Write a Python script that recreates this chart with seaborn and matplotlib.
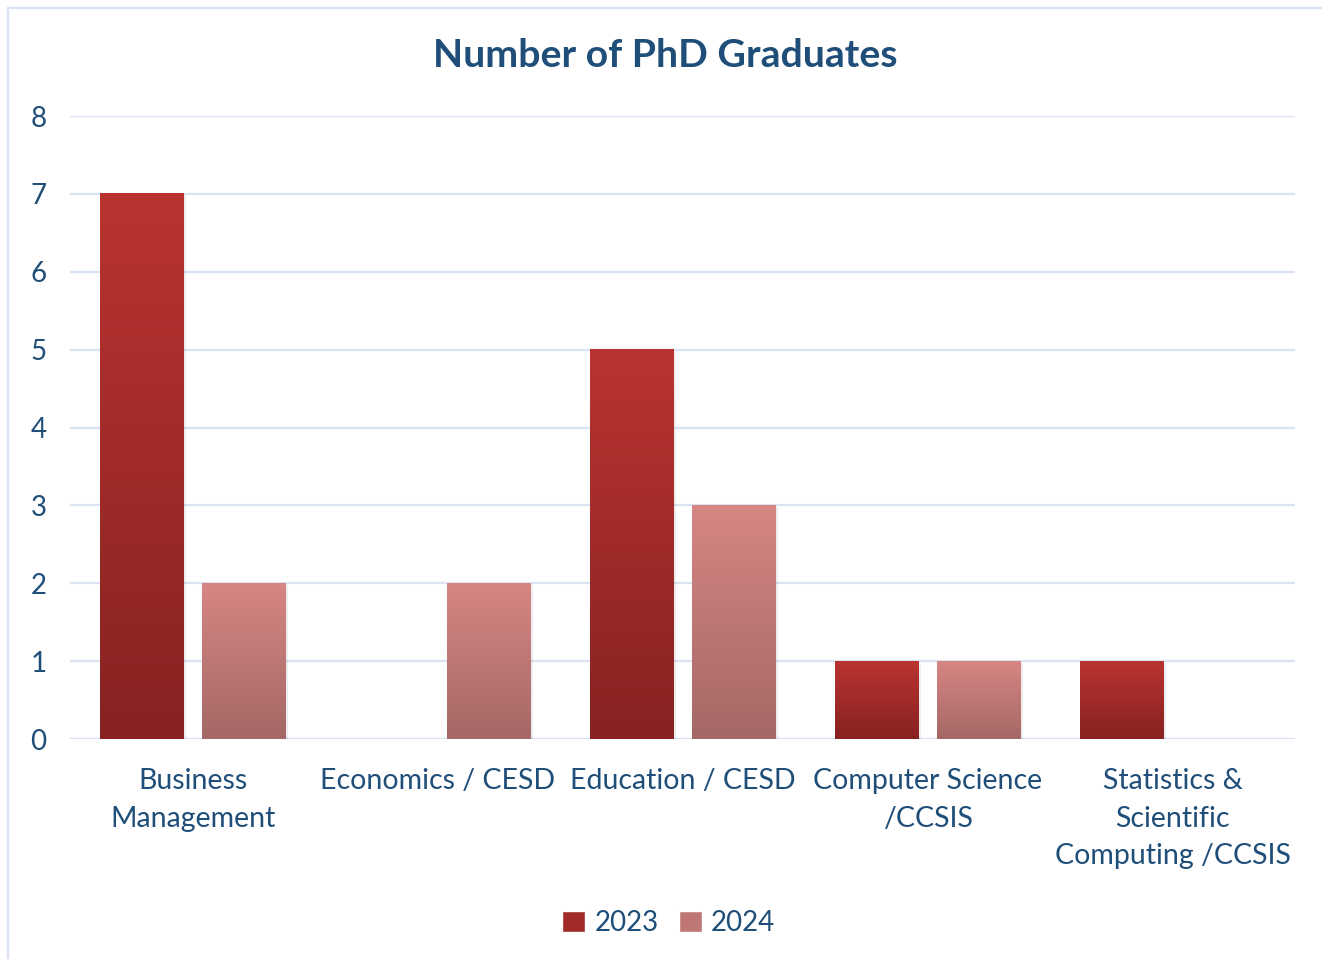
import numpy as np
import pandas as pd
import matplotlib
matplotlib.use("Agg")
import matplotlib.pyplot as plt
import seaborn as sns
from matplotlib.colors import LinearSegmentedColormap
from matplotlib.lines import Line2D
from matplotlib.patches import Patch

categories = ["Business\nManagement", "Economics / CESD", "Education / CESD",
              "Computer Science\n/CCSIS", "Statistics &\nScientific\nComputing /CCSIS"]
years = ["2023", "2024"]
grads_2023 = [7, 0, 5, 1, 1]
grads_2024 = [2, 2, 3, 1, 0]

text_col = "#1F4E79"
grid_col = "#D9E3F1"
# (top, bottom) of each bar's gradient
grad_cols = {"2023": ("#B93431", "#872221"), "2024": ("#D78684", "#A46866")}

df = pd.DataFrame({
    "dept": categories * 2,
    "year": [years[0]] * 5 + [years[1]] * 5,
    "count": grads_2023 + grads_2024,
})

sns.set_style("white")
plt.rcParams["font.family"] = ["Lato", "DejaVu Sans"]

fig = plt.figure(figsize=(13.22, 9.59), dpi=100)
ax = fig.add_axes([0.053, 0.2294, 0.9266, 0.6496])

sns.barplot(data=df, x="dept", y="count", hue="year", ax=ax,
            palette=["#A02B29", "#BE7775"], width=0.83, gap=0.18,
            legend=False, saturation=1)

# swap flat fills for vertical gradients
grad = np.linspace(0, 1, 256).reshape(-1, 1)
for cont, yr in zip(ax.containers, years):
    top, bottom = grad_cols[yr]
    cmap = LinearSegmentedColormap.from_list("g" + yr, [bottom, top])
    for bar in cont:
        x, y = bar.get_xy()
        w, h = bar.get_width(), bar.get_height()
        if h <= 0:
            continue
        # faint shadow
        ax.fill_between([x + 0.006, x + w + 0.012], 0, h - 0.02,
                        color="#000000", alpha=0.07, zorder=1.5, lw=0)
        ax.imshow(grad, extent=[x, x + w, y, y + h], origin="lower",
                  cmap=cmap, aspect="auto", zorder=2, interpolation="bicubic")
        bar.set_facecolor("none")
        bar.set_edgecolor("none")

ax.set_xlim(-0.5, 4.5)
ax.set_ylim(0, 8)
ax.set_yticks(range(0, 9))
ax.yaxis.grid(True, color=grid_col, lw=1.6)
ax.set_axisbelow(True)
for s in ax.spines.values():
    s.set_visible(False)
ax.axhline(0, color=grid_col, lw=1.6, zorder=1)
ax.set_xlabel("")
ax.set_ylabel("")
ax.tick_params(axis="y", length=0, pad=17, labelsize=20, labelcolor=text_col)
ax.tick_params(axis="x", length=0, pad=21, labelsize=20.5, labelcolor=text_col)
for lbl in ax.get_xticklabels():
    lbl.set_linespacing(1.55)
    lbl.set_verticalalignment("top")

fig.text(0.503, 0.942, "Number of PhD Graduates", ha="center", va="center",
         fontsize=28.3, fontweight="bold", color=text_col)

handles = [Patch(facecolor="#A02B29", label="2023"),
           Patch(facecolor="#BE7775", label="2024")]
fig.legend(handles=handles, loc="center", bbox_to_anchor=(0.506, 0.0375),
           ncol=2, frameon=False, fontsize=20, labelcolor=text_col,
           handlelength=0.8, handleheight=0.8, handletextpad=0.35,
           columnspacing=0.75)

# chart frame (only left and top edges fall inside the crop)
W, H = 1322, 959
fig.add_artist(Line2D([7.5 / W, 7.5 / W], [0, 1 - 8 / H], color=grid_col, lw=1.6))
fig.add_artist(Line2D([7.5 / W, 1], [1 - 8 / H, 1 - 8 / H], color=grid_col, lw=1.6))

fig.savefig("out.png", dpi=100)
